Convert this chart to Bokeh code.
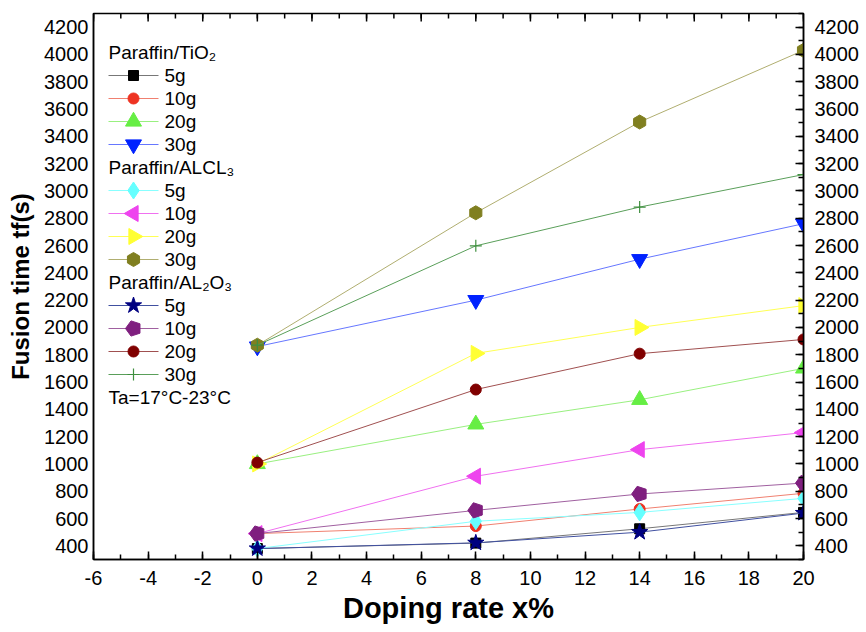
import math
from bokeh.plotting import figure
from bokeh.models import LinearAxis, FixedTicker, Range1d, Label
from bokeh.embed import file_html
from bokeh.resources import INLINE

# ---------------- data ----------------
doping = [0, 8, 14, 20]

tio2_5g = [380, 420, 525, 645]
tio2_10g = [490, 545, 670, 785]
tio2_20g = [1000, 1290, 1470, 1700]
tio2_30g = [1860, 2200, 2500, 2760]

alcl3_5g = [380, 580, 645, 748]
alcl3_10g = [490, 910, 1105, 1230]
alcl3_20g = [1000, 1810, 2000, 2160]
alcl3_30g = [1870, 2840, 3505, 4030]

al2o3_5g = [380, 422, 500, 640]
al2o3_10g = [490, 660, 780, 860]
al2o3_20g = [1010, 1545, 1808, 1912]
al2o3_30g = [1870, 2598, 2882, 3120]

x_ticks = list(range(-6, 21, 2))
x_tick_labels = [str(t) for t in x_ticks]
x_minor = list(range(-6, 21, 1))
y_ticks = list(range(400, 4201, 200))
y_minor = list(range(300, 4301, 100))

group_titles = ["Paraffin/TiO\u2082", "Paraffin/ALCL\u2083", "Paraffin/AL\u2082O\u2083"]
mass_labels = ["5g", "10g", "20g", "30g"]
note_text = "Ta=17\u00b0C-23\u00b0C"
x_title = "Doping rate x%"
y_title = "Fusion time tf(s)"

FONT = "Liberation Sans"

# layout constants (pixels)
W, H = 866, 632
FL, FR, FT, FB = 93, 63, 13, 73
FW, FH = W - FL - FR, H - FT - FB
X0, X1, Y0, Y1 = -6, 20, 300, 4300

p = figure(width=W, height=H, x_range=Range1d(X0, X1), y_range=Range1d(Y0, Y1),
           output_backend="svg", toolbar_location=None,
           min_border_left=FL, min_border_right=FR, min_border_top=FT, min_border_bottom=FB)
p.xgrid.visible = False
p.ygrid.visible = False
p.outline_line_color = "black"
p.outline_line_width = 1.5
p.background_fill_color = "white"
p.border_fill_color = "white"


def style_axis(ax, ticks, minor, tick_in=True, standoff=10):
    ax.ticker = FixedTicker(ticks=ticks, minor_ticks=minor)
    ax.axis_line_color = "black"
    ax.axis_line_width = 1.5
    ax.major_tick_line_color = "black"
    ax.major_tick_line_width = 1.5
    ax.minor_tick_line_color = "black"
    ax.minor_tick_line_width = 1.5
    if tick_in:
        ax.major_tick_in = 8
        ax.major_tick_out = 0
        ax.minor_tick_in = 5
        ax.minor_tick_out = 0
    else:
        ax.major_tick_line_color = None
        ax.minor_tick_line_color = None
        ax.major_tick_in = 0
        ax.major_tick_out = 0
        ax.minor_tick_in = 0
        ax.minor_tick_out = 0
    ax.major_label_text_font = FONT
    ax.major_label_text_color = "black"
    ax.major_label_text_font_size = "20px"
    ax.major_label_standoff = standoff
    ax.axis_label_text_color = "black"
    ax.axis_label_text_font = FONT
    ax.axis_label_text_font_style = "bold"


# bottom
bx = p.xaxis[0]
style_axis(bx, x_ticks, x_minor, tick_in=True, standoff=11)
bx.major_label_overrides = dict(zip(x_ticks, x_tick_labels))
bx.axis_label = x_title
bx.axis_label_text_font_size = "29px"
bx.axis_label_standoff = 4

# left
ly = p.yaxis[0]
style_axis(ly, y_ticks, y_minor, tick_in=False, standoff=5)
ly.axis_label = y_title
ly.axis_label_text_font_size = "24px"
ly.axis_label_standoff = 7

# right
ry = LinearAxis()
style_axis(ry, y_ticks, y_minor, tick_in=True, standoff=11)
p.add_layout(ry, "right")

# top ticks (inward, no labels)
dy_per_px = (Y1 - Y0) / FH
p.segment(x0=x_minor, y0=[Y1] * len(x_minor), x1=x_minor,
          y1=[Y1 - 5 * dy_per_px] * len(x_minor), line_color="black", line_width=1.5)
p.segment(x0=x_ticks, y0=[Y1] * len(x_ticks), x1=x_ticks,
          y1=[Y1 - 8 * dy_per_px] * len(x_ticks), line_color="black", line_width=1.5)

# ---------------- series ----------------
series = [
    (tio2_5g, "#000000", "#777777", "square", 10, 0.0),
    (tio2_10g, "#EE3322", "#F08070", "circle", 11, 0.0),
    (tio2_20g, "#66EE44", "#99F080", "triangle", 16, 0.0),
    (tio2_30g, "#0022FF", "#6677FF", "inverted_triangle", 16, 0.0),
    (alcl3_5g, "#66FFFF", "#88FFFF", "diamond", 17, 0.0),
    (alcl3_10g, "#EE44EE", "#F070F0", "triangle", 16, math.pi / 2),
    (alcl3_20g, "#FFFF33", "#FFFF55", "triangle", 16, -math.pi / 2),
    (alcl3_30g, "#807F20", "#B0AE70", "hex", 14, math.pi / 6),
    (al2o3_5g, "#000080", "#4050A0", "star", 17, 0.0),
    (al2o3_10g, "#7F1F7F", "#A060A0", "pentagon", 8, 0.0),
    (al2o3_20g, "#800000", "#A05050", "circle", 11, 0.0),
    (al2o3_30g, "#3F8F3F", "#5A9F5A", "cross", 12, 0.0),
]


def draw_markers(xs, ys, col, mk, sz, ang):
    if mk == "pentagon":
        p.ngon(x=xs, y=ys, radius=sz, radius_units="screen", n=5,
               angle=math.pi / 2, fill_color=col, line_color=col)
    elif mk == "cross":
        p.scatter(xs, ys, marker="cross", size=sz, line_color=col, line_width=1.2)
    else:
        p.scatter(xs, ys, marker=mk, size=sz, angle=ang, fill_color=col, line_color=col)


for vals, col, lcol, mk, sz, ang in series:
    p.line(doping, vals, line_color=lcol, line_width=1)
    draw_markers(doping, vals, col, mk, sz, ang)

# ---------------- legend (drawn by hand) ----------------
def dx(px):
    return X0 + (px - FL) * (X1 - X0) / FW


def dy(py):
    return Y0 + (FT + FH - py) * (Y1 - Y0) / FH


ROW = 23
header_rows = [52, 167, 282]
for g in range(3):
    hy = header_rows[g]
    p.add_layout(Label(x=108 - FL, y=FT + FH - hy, x_units="screen", y_units="screen",
                       text=group_titles[g], text_font=FONT, text_font_size="19px",
                       text_baseline="middle", text_color="black"))
    for k in range(4):
        vals, col, lcol, mk, sz, ang = series[g * 4 + k]
        ry_px = hy + ROW * (k + 1)
        p.line([dx(108), dx(158)], [dy(ry_px), dy(ry_px)], line_color=lcol, line_width=1)
        draw_markers([dx(133)], [dy(ry_px)], col, mk, sz, ang)
        p.add_layout(Label(x=164 - FL, y=FT + FH - ry_px, x_units="screen", y_units="screen",
                           text=mass_labels[k], text_font=FONT, text_font_size="19px",
                           text_baseline="middle", text_color="black"))

p.add_layout(Label(x=108 - FL, y=FT + FH - 397, x_units="screen", y_units="screen",
                   text=note_text, text_font=FONT, text_font_size="19px",
                   text_baseline="middle", text_color="black"))

open("out.html", "w").write(file_html(p, INLINE))
